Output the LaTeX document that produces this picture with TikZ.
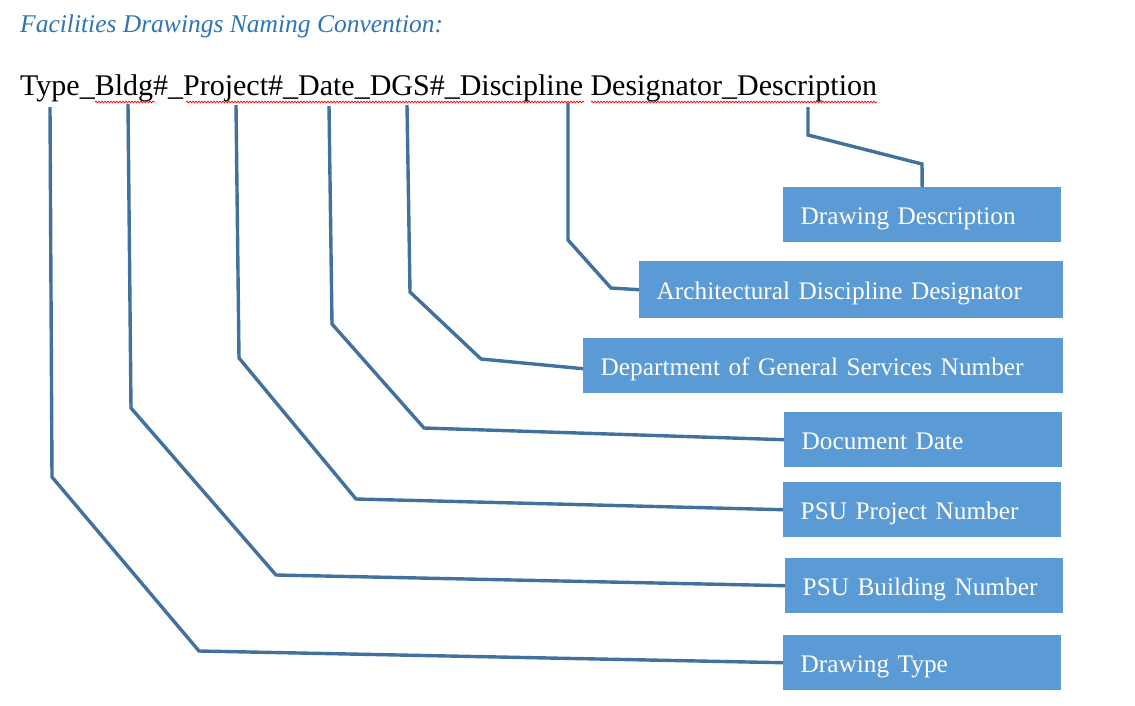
\documentclass[tikz,border=0pt]{standalone}
\usepackage{fontspec}
\setmainfont{Liberation Serif}
\usetikzlibrary{positioning,decorations.pathmorphing}

\definecolor{boxblue}{HTML}{5B9BD5}
\definecolor{leadblue}{HTML}{41719C}
\definecolor{titleblue}{HTML}{2E74B5}

\tikzset{
  partbox/.style={fill=boxblue, text=white, anchor=north west, align=left,
    font=\fontsize{25.3}{30}\selectfont, inner xsep=17.5pt, inner ysep=0pt,
    text height=22pt, text depth=3pt, minimum height=55pt},
  leader/.style={leadblue, line width=3.4pt},
  squiggle/.style={red, line width=0.7pt, decorate,
    decoration={snake, amplitude=0.9pt, segment length=3pt}}
}

\begin{document}
\begin{tikzpicture}[x=1pt,y=-1pt]

\useasboundingbox (0,0) rectangle (1135,705);

% heading and file name pattern
\node[anchor=base west, inner sep=0, text=titleblue,
  font=\fontsize{25.5}{30}\selectfont\itshape] (title) at (20,32) {Facilities Drawings Naming Convention:};
\node[anchor=base west, inner sep=0,
  font=\fontsize{30}{36}\selectfont] (pattern) at (20,95)
  {Type\_Bldg\#\_Project\#\_Date\_DGS\#\_Discipline Designator\_Description};

\draw[squiggle] (95,102) -- (155,102);
\draw[squiggle] (186,102) -- (584,102);
\draw[squiggle] (591,102) -- (877,102);

% where each leader starts
\coordinate (tType) at (50,107);
\coordinate (tBldg) at (128,104);
\coordinate (tProject) at (236,105);
\coordinate (tDate) at (329,106);
\coordinate (tDGS) at (407,105);
\coordinate (tDiscipline) at (568,103);
\coordinate (tDescription) at (808,107);

% boxes
\node[partbox, text width=243pt] (description) at (783,187) {Drawing Description};
\node[partbox, text width=389pt, minimum height=57pt] (discipline) at (639,261) {Architectural Discipline Designator};
\node[partbox, text width=445pt] (dgs) at (583,338) {Department of General Services Number};
\node[partbox, text width=243pt] (date) at (784,412) {Document Date};
\node[partbox, text width=243pt] (project) at (783,482) {PSU Project Number};
\node[partbox, text width=243pt] (building) at (785,558) {PSU Building Number};
\node[partbox, text width=243pt] (type) at (783,635) {Drawing Type};

% leaders
\draw[leader] (tType) -- (52,477) -- (199,651) -- (type.west);
\draw[leader] (tBldg) -- (131,408) -- (276,575) -- (building.west);
\draw[leader] (tProject) -- (239,358) -- (356,499) -- (project.west);
\draw[leader] (tDate) -- (332,324) -- (424,428) -- (date.west);
\draw[leader] (tDGS) -- (410,292) -- (481,359) -- ([yshift=-3pt]dgs.west);
\draw[leader] (tDiscipline) -- (568,240) -- (611,288) -- (discipline.west);
\draw[leader] (tDescription) -- (808,135) -- (922,164) -- (description.north);

\end{tikzpicture}
\end{document}
